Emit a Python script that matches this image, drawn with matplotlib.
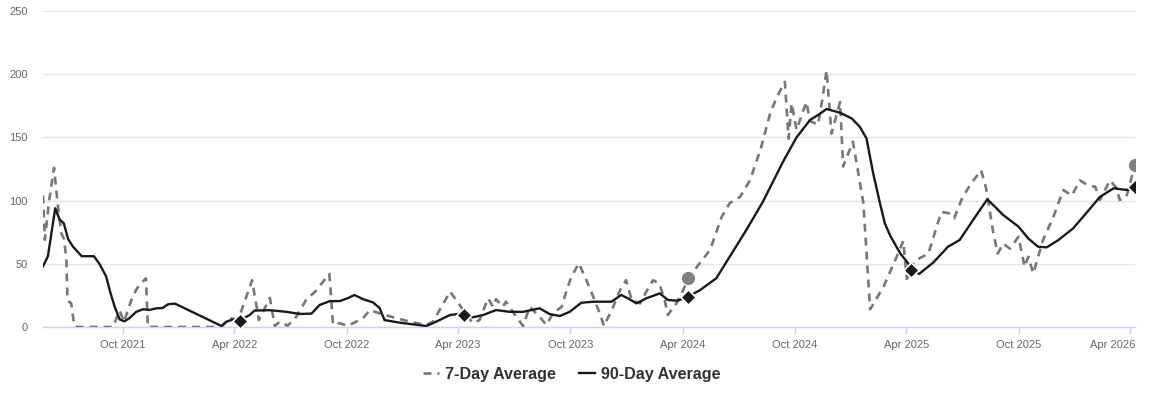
import numpy as np
import pandas as pd
import matplotlib
matplotlib.use("Agg")
import matplotlib.pyplot as plt
import matplotlib.dates as mdates
import matplotlib.transforms as mtransforms

# 7-day average (dashed grey)
week_dates = [
    "2021-05-24", "2021-05-27", "2021-06-03", "2021-06-11", "2021-06-17", "2021-06-23",
    "2021-06-27", "2021-07-01", "2021-07-03", "2021-07-09", "2021-07-14", "2021-07-19",
    "2021-09-15", "2021-09-26", "2021-10-03", "2021-10-17", "2021-10-25", "2021-10-31",
    "2021-11-08", "2021-11-11", "2022-03-11", "2022-03-24", "2022-04-03", "2022-04-12",
    "2022-04-30", "2022-05-11", "2022-05-29", "2022-06-06", "2022-06-14", "2022-06-27",
    "2022-07-11", "2022-07-27", "2022-08-13", "2022-08-24", "2022-09-03", "2022-09-09",
    "2022-09-20", "2022-10-03", "2022-10-28", "2022-11-08", "2022-11-24", "2022-12-21",
    "2023-01-12", "2023-02-08", "2023-02-19", "2023-03-08", "2023-03-19", "2023-04-04",
    "2023-04-15", "2023-04-25", "2023-05-06", "2023-05-20", "2023-05-28", "2023-06-02",
    "2023-06-13", "2023-06-18", "2023-07-05", "2023-07-16", "2023-07-27", "2023-08-12",
    "2023-08-23", "2023-09-03", "2023-09-17", "2023-09-25", "2023-10-03", "2023-10-15",
    "2023-11-02", "2023-11-18", "2023-11-25", "2023-12-10", "2023-12-21", "2023-12-31",
    "2024-01-09", "2024-01-23", "2024-02-02", "2024-02-13", "2024-02-23", "2024-03-03",
    "2024-03-08", "2024-03-22", "2024-04-02", "2024-04-10", "2024-04-29", "2024-05-16",
    "2024-06-04", "2024-06-17", "2024-07-04", "2024-07-20", "2024-08-06", "2024-08-22",
    "2024-09-01", "2024-09-15", "2024-09-21", "2024-09-26", "2024-10-04", "2024-10-20",
    "2024-10-26", "2024-11-08", "2024-11-14", "2024-11-22", "2024-11-30", "2024-12-14",
    "2024-12-19", "2025-01-04", "2025-01-21", "2025-02-01", "2025-02-23", "2025-03-14",
    "2025-03-27", "2025-04-02", "2025-04-09", "2025-04-17", "2025-05-07", "2025-05-28",
    "2025-06-10", "2025-06-18", "2025-07-02", "2025-07-16", "2025-08-01", "2025-08-09",
    "2025-08-20", "2025-08-28", "2025-09-06", "2025-09-17", "2025-10-01", "2025-10-11",
    "2025-10-17", "2025-10-25", "2025-11-10", "2025-11-27", "2025-12-13", "2025-12-27",
    "2026-01-09", "2026-01-23", "2026-02-03", "2026-02-11", "2026-02-27", "2026-03-10",
    "2026-03-15", "2026-03-26", "2026-04-06", "2026-04-09",
]
week_vals = [
    104, 69, 100, 126, 97, 74,
    70, 55, 21, 18.7, 1, 0,
    0, 13, 4, 24, 31, 34.6,
    38.5, 0, 0, 7, 6, 12,
    37, 5.5, 23, 0.8, 4.2, 1,
    8, 21.4, 29, 36, 42, 2,
    3, 0.8, 7, 13.4, 10.8, 7,
    4.2, 1.6, 4.2, 18.7, 28, 17,
    9.5, 3, 5.5, 22.7, 16, 22,
    16, 20, 8, 0.8, 16, 8,
    1.6, 10.8, 16, 29, 40, 50.4,
    30.6, 10.8, 0.8, 16, 29, 37,
    21.4, 18.7, 28, 37, 34.6, 21.4,
    9.5, 18.7, 29, 38.5, 50.4, 61,
    87.3, 98, 103, 116, 140, 169,
    181, 194, 149, 177, 156, 178,
    163, 160, 177, 203, 153, 178,
    127, 146.6, 98, 14, 32, 53,
    68, 38, 48, 53, 58, 91,
    90, 86, 103, 113.7, 124, 110,
    77, 58, 66, 62, 71.4, 47.7,
    55.6, 42.4, 68.8, 87.3, 108.4, 104,
    116, 112, 111, 100.5, 116, 110,
    100.5, 103, 123, 128,
]

# 90-day average (solid black)
qtr_dates = [
    "2021-05-24", "2021-06-01", "2021-06-13", "2021-06-20", "2021-06-27", "2021-07-04",
    "2021-07-12", "2021-07-26", "2021-08-15", "2021-08-24", "2021-09-04", "2021-09-11",
    "2021-09-18", "2021-09-26", "2021-10-04", "2021-10-12", "2021-10-23", "2021-11-03",
    "2021-11-14", "2021-11-25", "2021-12-05", "2021-12-14", "2021-12-25", "2022-01-05",
    "2022-03-11", "2022-03-19", "2022-03-30", "2022-04-05", "2022-04-10", "2022-04-26",
    "2022-05-04", "2022-05-29", "2022-06-25", "2022-07-17", "2022-08-05", "2022-08-18",
    "2022-09-04", "2022-09-20", "2022-10-04", "2022-10-14", "2022-10-28", "2022-11-13",
    "2022-11-24", "2022-12-02", "2022-12-27", "2023-02-08", "2023-02-19", "2023-03-19",
    "2023-04-01", "2023-04-10", "2023-04-25", "2023-05-12", "2023-06-02", "2023-06-24",
    "2023-07-16", "2023-08-12", "2023-08-28", "2023-09-14", "2023-09-30", "2023-10-19",
    "2023-11-07", "2023-12-07", "2023-12-23", "2024-01-03", "2024-01-17", "2024-02-02",
    "2024-02-24", "2024-03-08", "2024-03-24", "2024-04-10", "2024-04-29", "2024-05-26",
    "2024-06-17", "2024-07-14", "2024-08-10", "2024-09-12", "2024-10-04", "2024-10-26",
    "2024-11-08", "2024-11-22", "2024-12-14", "2025-01-02", "2025-01-15", "2025-01-26",
    "2025-02-06", "2025-02-17", "2025-02-25", "2025-03-06", "2025-03-22", "2025-04-04",
    "2025-04-09", "2025-04-22", "2025-05-15", "2025-06-08", "2025-06-27", "2025-07-19",
    "2025-08-11", "2025-08-24", "2025-09-06", "2025-10-01", "2025-10-17", "2025-11-02",
    "2025-11-16", "2025-12-05", "2025-12-29", "2026-01-20", "2026-02-11", "2026-03-05",
    "2026-03-27", "2026-04-09",
]
qtr_vals = [
    48, 56, 94, 85, 82, 69.5,
    63.5, 56, 56, 50, 40, 27,
    16, 6, 4.5, 7, 12, 14,
    13.5, 14.8, 15, 18, 18.5, 16,
    0.8, 4.2, 6, 4.5, 5, 9.5,
    13, 13.3, 12, 10.3, 10.6, 17.4,
    20.5, 20.5, 23, 25.3, 22, 19.5,
    15, 5.5, 3.4, 0.8, 3, 9.5,
    10.3, 9.5, 7.7, 9.5, 13.4, 12,
    12, 14.8, 10.3, 8.7, 12, 19.2,
    20, 20, 25.3, 22.7, 18.7, 22.7,
    26.6, 21.4, 20.8, 24, 29, 38.5,
    55.6, 76.7, 99, 130.8, 150, 163.8,
    167.7, 172.5, 169.5, 165, 158.5, 149.3,
    121.6, 98, 82, 72, 58.3, 50.4,
    45, 42, 51, 63.5, 68.8, 84.7,
    101, 95, 88.6, 79.4, 70, 63.5,
    63, 68.8, 78, 90.4, 103, 109.7,
    108.4, 110.5,
]

# yearly markers
marker_dates = ["2022-04-10", "2023-04-10", "2024-04-10", "2025-04-09", "2026-04-09"]
marker_qtr = [5, 9.5, 24, 45, 110.5]
circle_dates = ["2024-04-10", "2026-04-09"]
circle_week = [38.5, 128]

week_dates = pd.to_datetime(week_dates)
qtr_dates = pd.to_datetime(qtr_dates)
marker_dates = pd.to_datetime(marker_dates)
circle_dates = pd.to_datetime(circle_dates)

plt.rcParams['font.family'] = ['Liberation Sans', 'DejaVu Sans']

fig = plt.figure(figsize=(11.5, 4.01), dpi=100)
ax = fig.add_axes([43 / 1150, (401 - 327) / 401, (1135 - 43) / 1150, (327 - 11) / 401])

ax.plot(week_dates, week_vals, color='#777777', lw=1.9, dashes=(3.0, 2.3),
        label='7-Day Average', zorder=3)
ax.plot(qtr_dates, qtr_vals, color='#1a1a1a', lw=1.7, label='90-Day Average', zorder=4)

ax.scatter(circle_dates, circle_week, s=90, color='#808080', zorder=5, linewidths=0)
ax.scatter(marker_dates, marker_qtr, s=60, marker='D', color='#1a1a1a',
           edgecolors='white', linewidths=1.2, zorder=6)

ax.set_ylim(0, 250)
ax.set_yticks(np.arange(0, 251, 50))
ax.set_xlim(week_dates[0], week_dates[-1])

ax.xaxis.set_major_locator(mdates.MonthLocator(bymonth=[4, 10]))
ax.xaxis.set_major_formatter(mdates.DateFormatter('%b %Y'))

ax.grid(axis='y', color='#e6e6e6', lw=1)
ax.set_axisbelow(True)
for s in ['top', 'right', 'left']:
    ax.spines[s].set_visible(False)
ax.spines['bottom'].set_color('#ccd6eb')
ax.spines['bottom'].set_linewidth(1)

ax.tick_params(axis='x', colors='#ccd6eb', length=5, width=1, pad=4,
               labelcolor='#666666', labelsize=8)
ax.tick_params(axis='y', length=0, pad=11, labelcolor='#666666', labelsize=8)

# keep the last date label inside the figure, like the original
fig.canvas.draw()
last = ax.get_xticklabels()[-1]
last.set_horizontalalignment('right')
last.set_transform(last.get_transform() +
                   mtransforms.ScaledTranslation(5 / 100, 0, fig.dpi_scale_trans))

leg = fig.legend(loc='center', bbox_to_anchor=(0.497, (401 - 374) / 401), ncol=2,
                 frameon=False, handlelength=1.0, handletextpad=0.4,
                 columnspacing=1.4, prop={'weight': 'bold', 'size': 11.6})
for t in leg.get_texts():
    t.set_color('#333333')

plt.savefig('out.png', dpi=100)
plt.close()
